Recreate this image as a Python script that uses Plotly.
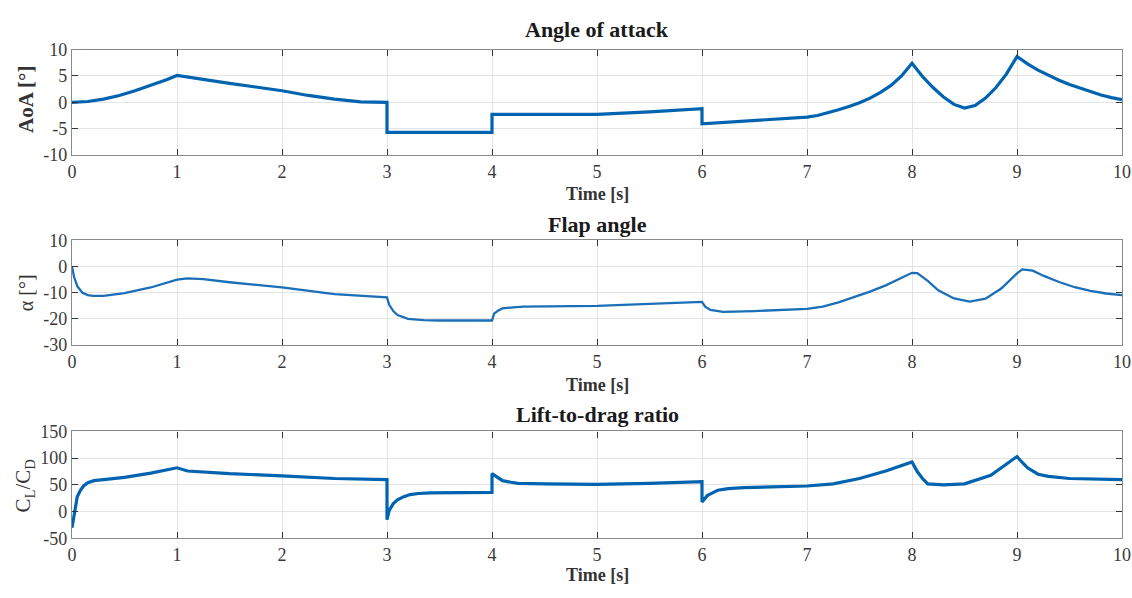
import plotly.graph_objects as go

# ---------------- data ----------------
aoa_t = [0, 0.15, 0.3, 0.45, 0.6, 0.75, 0.9, 1.0, 1.25, 1.5, 1.75, 2.0, 2.25, 2.5, 2.75, 3.0,
         3.0, 3.5, 4.0, 4.0, 4.5, 5.0, 5.5, 6.0, 6.0, 6.5, 7.0, 7.1, 7.2, 7.3, 7.4, 7.5,
         7.6, 7.7, 7.8, 7.9, 8.0, 8.05, 8.1, 8.2, 8.3, 8.4, 8.5, 8.6, 8.7, 8.8, 8.9, 9.0,
         9.05, 9.1, 9.2, 9.3, 9.4, 9.5, 9.6, 9.7, 9.8, 9.9, 10.0]
aoa_v = [0, 0.15, 0.6, 1.3, 2.2, 3.2, 4.3, 5.1, 4.3, 3.6, 2.9, 2.2, 1.3, 0.6, 0.1, 0.0,
         -5.7, -5.7, -5.7, -2.3, -2.3, -2.3, -1.8, -1.2, -4.1, -3.5, -2.8, -2.5, -2.0, -1.4, -0.8, -0.1,
         0.8, 1.9, 3.2, 5.0, 7.4, 6.2, 4.9, 2.8, 1.0, -0.4, -1.1, -0.6, 0.8, 2.8, 5.4, 8.7,
         8.0, 7.3, 6.1, 5.1, 4.2, 3.4, 2.7, 2.0, 1.4, 0.9, 0.5]

flap_t = [0, 0.02, 0.05, 0.1, 0.15, 0.2, 0.3, 0.5, 0.75, 1.0, 1.1, 1.25, 1.5, 2.0, 2.5, 3.0,
          3.02, 3.06, 3.1, 3.2, 3.35, 3.5, 4.0, 4.02, 4.06, 4.1, 4.2, 4.3, 5.0, 5.5, 6.0,
          6.03, 6.08, 6.2, 6.5, 7.0, 7.15, 7.3, 7.45, 7.6, 7.75, 7.9, 8.0, 8.05, 8.15, 8.25, 8.4, 8.55,
          8.7, 8.85, 9.0, 9.05, 9.15, 9.25, 9.4, 9.55, 9.7, 9.85, 10.0]
flap_v = [0, -4.0, -7.5, -10.0, -10.9, -11.2, -11.2, -10.2, -8.0, -5.0, -4.5, -4.8, -6.0, -8.0, -10.5, -11.8,
          -14.5, -17.0, -18.5, -20.0, -20.5, -20.6, -20.6, -18.0, -16.8, -16.0, -15.6, -15.3, -15.0, -14.3, -13.5,
          -15.3, -16.6, -17.3, -17.0, -16.2, -15.3, -13.7, -11.8, -9.6, -7.2, -4.4, -2.4, -2.5, -5.5, -9.1, -12.2, -13.4,
          -12.3, -8.4, -2.6, -1.1, -1.6, -3.5, -5.9, -7.9, -9.3, -10.3, -10.9]

ld_t = [0, 0.03, 0.05, 0.08, 0.11, 0.15, 0.21, 0.3, 0.5, 0.75, 1.0, 1.1, 1.25, 1.5, 2.0, 2.5, 3.0,
        3.0, 3.02, 3.06, 3.1, 3.16, 3.22, 3.3, 3.41, 4.0, 4.0, 4.05, 4.1, 4.18, 4.25, 4.5, 5.0, 5.5, 6.0,
        6.0, 6.05, 6.1, 6.15, 6.25, 6.4, 7.0, 7.25, 7.5, 7.75, 8.0, 8.05, 8.1, 8.15, 8.3, 8.5, 8.75,
        9.0, 9.05, 9.1, 9.2, 9.3, 9.5, 10.0]
ld_v = [-30, 5, 28, 40, 48, 54, 58, 60, 64, 72, 82, 76, 74, 71, 67, 62, 60,
        -15, 2, 15, 22, 28, 32, 34, 35, 36, 71, 65, 58, 55, 53, 52, 51, 53, 56,
        18, 30, 35, 40, 43, 45, 48, 52, 62, 76, 93, 75, 62, 52, 50, 52, 68,
        103, 92, 82, 70, 66, 62, 60]

x_ticks = [0, 1, 2, 3, 4, 5, 6, 7, 8, 9, 10]
aoa_ticks = [-10, -5, 0, 5, 10]
flap_ticks = [-30, -20, -10, 0, 10]
ld_ticks = [-50, 0, 50, 100, 150]

titles = ["Angle of attack", "Flap angle", "Lift-to-drag ratio"]

# ---------------- figure ----------------
W, H = 1132, 598
ML, MR = 72, 10
FONT = "Liberation Serif"
BLUE = "#0063b0"

def py(px):
    return 1 - px / H

def px_x(px):
    return (px - ML) / (W - ML - MR)

panels = [
    (aoa_t, aoa_v, aoa_ticks, (41, 150), 3.2, BLUE),
    (flap_t, flap_v, flap_ticks, (238.3, 346.7), 2.3, "#1a6fb8"),
    (ld_t, ld_v, ld_ticks, (436, 546.7), 3.2, BLUE),
]

fig = go.Figure()
layout = dict(
    width=W, height=H,
    margin=dict(l=ML, r=MR, t=0, b=0),
    paper_bgcolor="white", plot_bgcolor="white",
    showlegend=False,
    font=dict(family=FONT, size=15, color="#333"),
)

for i, (t, v, yt, (top, bot), lw, col) in enumerate(panels):
    xa = "x" if i == 0 else f"x{i+1}"
    ya = "y" if i == 0 else f"y{i+1}"
    fig.add_trace(go.Scatter(x=t, y=v, mode="lines", xaxis=xa, yaxis=ya,
                             line=dict(color=col, width=lw)))
    axkey = "xaxis" if i == 0 else f"xaxis{i+1}"
    aykey = "yaxis" if i == 0 else f"yaxis{i+1}"
    common = dict(
        ticks="inside", ticklen=6, tickcolor="#333", tickwidth=1,
        showline=True, linecolor="#8a8a8a", linewidth=1.2, mirror="ticks",
        showgrid=True, gridcolor="#e4e4e4", gridwidth=1,
        zeroline=False, tickfont=dict(family=FONT, size=18, color="#3a3a3a"),
        fixedrange=True,
    )
    layout[axkey] = dict(domain=[0, 1], anchor=ya, range=[0, 10],
                         tickvals=x_ticks, ticktext=[str(k) for k in x_ticks], **common)
    layout[aykey] = dict(domain=[py(bot), py(top)], anchor=xa, range=[yt[0], yt[-1]],
                         tickvals=yt, ticktext=[str(k) for k in yt], **common)

fig.update_layout(**layout)

ann = []
title_y = [20, 222, 418]
time_y = [190, 388, 585]
for i in range(3):
    ann.append(dict(text=f"<b>{titles[i]}</b>", x=0.5, y=py(title_y[i]),
                    xref="paper", yref="paper", showarrow=False,
                    xanchor="center", yanchor="middle",
                    font=dict(family=FONT, size=22, color="#1a1a1a")))
    ann.append(dict(text="<b>Time [s]</b>", x=0.5, y=py(time_y[i]),
                    xref="paper", yref="paper", showarrow=False,
                    xanchor="center", yanchor="middle",
                    font=dict(family=FONT, size=18, color="#333")))

ylabels = [("<b>AoA [°]</b>", 26, 93, 21),
           ("α [°]", 26, 293, 20),
           ("C<sub>L</sub>/C<sub>D</sub>", 24, 492, 21)]
for txt, xpx, ypx, sz in ylabels:
    ann.append(dict(text=txt, x=px_x(xpx), y=py(ypx), xref="paper", yref="paper",
                    showarrow=False, textangle=-90, xanchor="center", yanchor="middle",
                    font=dict(family=FONT, size=sz, color="#333")))
fig.update_layout(annotations=ann)

fig.write_html("out.html")
